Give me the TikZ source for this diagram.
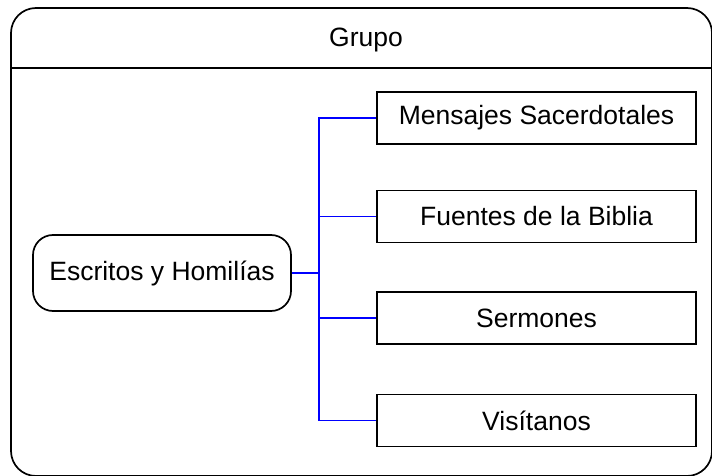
\documentclass[tikz,border=0pt]{standalone}
\usepackage{fontspec}
\setmainfont{Liberation Sans}
\begin{document}
\begin{tikzpicture}[x=1pt,y=-1pt,
  txt/.style={font=\fontsize{26.5}{30}\selectfont},
  leafbox/.style={draw=black,line width=1.7pt,minimum width=319pt,minimum height=52pt,inner sep=0pt,txt},
  rootbox/.style={draw=black,line width=1.7pt,rounded corners=20pt,minimum width=258pt,minimum height=76pt,inner sep=0pt,txt},
  link/.style={color=blue,line width=1.1pt}]
\useasboundingbox (0,0) rectangle (712,476);
\draw[line width=1.7pt,rounded corners=25pt] (11,8) rectangle (712,476);
\draw[line width=1.7pt] (11,68) -- (712,68);
\node[txt] (title) at (366,40) {Grupo};
\node[rootbox] (root) at (162,273) {Escritos y Homilías};
\node[leafbox] (m1) at (536.5,118) {Mensajes Sacerdotales};
\node[leafbox] (m2) at (536.5,216.5) {Fuentes de la Biblia};
\node[leafbox] (m3) at (536.5,318) {Sermones};
\node[leafbox] (m4) at (536.5,420.5) {Visítanos};
\coordinate (bus) at (319,273);
\draw[link] (root.east) -- (bus);
\draw[link] (bus) |- (m1.west);
\draw[link] (bus) |- (m2.west);
\draw[link] (bus) |- (m3.west);
\draw[link] (bus) |- (m4.west);
\end{tikzpicture}
\end{document}
